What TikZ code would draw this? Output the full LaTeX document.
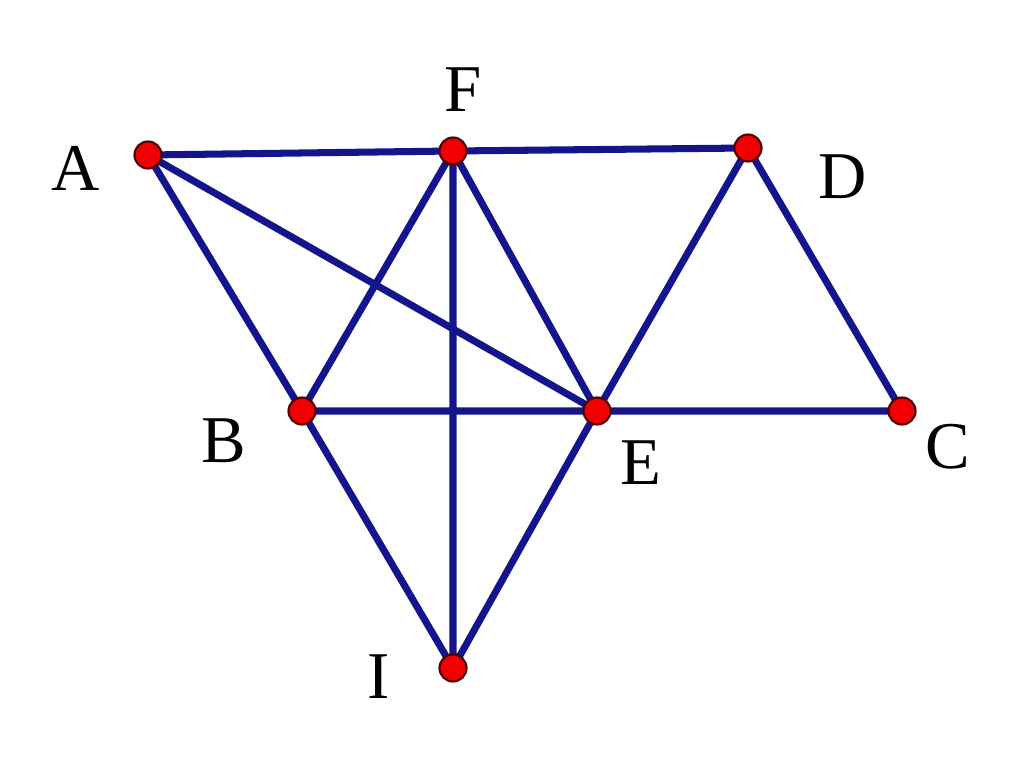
\documentclass[tikz,border=0pt]{standalone}
\usepackage{fontspec}
\setmainfont{Liberation Serif}
\definecolor{edgeblue}{RGB}{20,20,140}
\definecolor{dotred}{RGB}{240,0,0}
\begin{document}
\begin{tikzpicture}[x=0.01cm,y=-0.01cm,
  pt/.style={circle, fill=dotred, draw=black!70!red, line width=0.6pt, inner sep=0pt, minimum size=0.27cm},
  lbl/.style={font=\fontsize{19}{19}\selectfont},
  edge/.style={draw=edgeblue, line width=2pt}]
\useasboundingbox (0,0) rectangle (1024,764);

% points
\coordinate (A) at (148,155);
\coordinate (F) at (453,151);
\coordinate (D) at (748,148);
\coordinate (B) at (302,411);
\coordinate (E) at (597,411);
\coordinate (C) at (902,411);
\coordinate (I) at (453,668);

% segments
\draw [edge]
(A) -- (F) -- (D)
(A) -- (B) -- (I)
(A) -- (E)
(F) -- (B)
(F) -- (E)
(F) -- (I)
(D) -- (E) -- (I)
(D) -- (C)
(B) -- (E) -- (C);

% dots
\foreach \p in {A,F,D,B,E,C,I}
  \node [pt] (dot\p) at (\p) {};

% labels
\node [lbl] (labA) at (76,168) {A};
\node [lbl] (labF) at (463,90) {F};
\node [lbl] (labD) at (843,177) {D};
\node [lbl] (labB) at (224,441) {B};
\node [lbl] (labE) at (641,463) {E};
\node [lbl] (labC) at (948,447) {C};
\node [lbl] (labI) at (379,677) {I};
\end{tikzpicture}
\end{document}
